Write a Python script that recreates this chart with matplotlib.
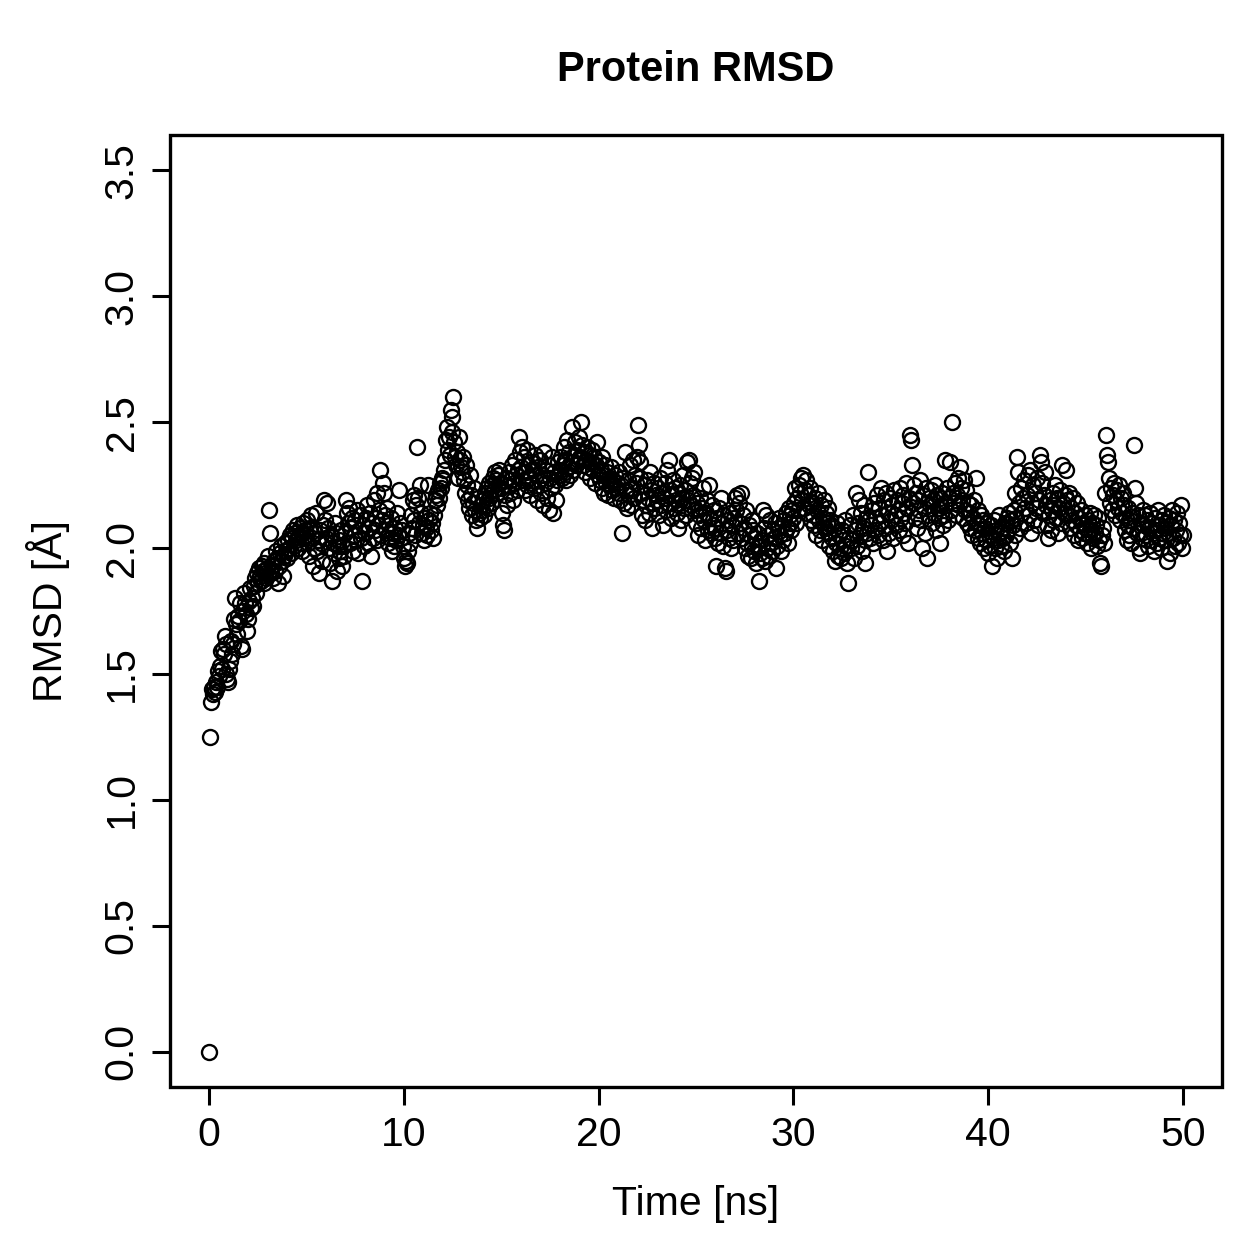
import numpy as np
import matplotlib
matplotlib.use("Agg")
import matplotlib.pyplot as plt

# simulation time in ns, one frame every 50 ps
time_ns = np.round(np.arange(0, 1001) * 0.05, 2)

# protein RMSD in Angstrom, one row per ns (20 frames)
rmsd = np.array([
    0.00, 1.25, 1.39, 1.44, 1.42, 1.45, 1.43, 1.47, 1.45, 1.51, 1.49, 1.53, 1.59, 1.52, 1.60, 1.58, 1.65, 1.62, 1.50, 1.48,
    1.47, 1.52, 1.55, 1.63, 1.58, 1.62, 1.72, 1.80, 1.70, 1.66, 1.73, 1.71, 1.78, 1.61, 1.60, 1.75, 1.82, 1.78, 1.74, 1.67,
    1.72, 1.79, 1.84, 1.76, 1.80, 1.77, 1.85, 1.88, 1.82, 1.90, 1.86, 1.92, 1.89, 1.87, 1.93, 1.91, 1.86, 1.94, 1.90, 1.88,
    1.92, 1.97, 2.15, 2.06, 1.90, 1.93, 1.88, 1.95, 1.91, 1.99, 1.96, 1.86, 1.93, 1.98, 2.01, 1.95, 1.89, 1.97, 2.02, 1.99,
    1.96, 2.03, 2.00, 2.05, 1.98, 2.04, 2.07, 2.01, 2.06, 2.03, 2.09, 2.00, 2.05, 2.08, 2.02, 1.99, 2.06, 2.10, 2.04, 2.07,
    2.05, 2.11, 2.02, 1.97, 2.08, 2.13, 2.04, 1.93, 2.00, 2.06, 2.14, 1.99, 2.03, 1.90, 2.07, 2.02, 1.95, 2.09, 2.19, 2.11,
    2.04, 2.18, 2.08, 2.00, 1.94, 2.05, 1.87, 2.02, 1.98, 2.10, 2.06, 1.91, 2.01, 1.96, 2.03, 1.99, 2.07, 1.93, 2.01, 1.97,
    2.06, 2.19, 2.14, 2.10, 2.16, 2.02, 2.08, 2.12, 1.99, 2.05, 2.11, 2.03, 2.15, 1.98, 2.07, 2.13, 2.04, 1.87, 2.09, 2.01,
    2.06, 2.12, 2.17, 2.02, 2.08, 2.14, 1.97, 2.10, 2.04, 2.19, 2.07, 2.12, 2.22, 2.03, 2.09, 2.15, 2.31, 2.05, 2.11, 2.26,
    2.22, 2.13, 2.07, 2.16, 2.02, 2.09, 2.04, 2.12, 1.99, 2.06, 2.01, 2.08, 2.03, 2.14, 2.05, 2.23, 2.10, 2.04, 2.07, 2.01,
    1.96, 1.93, 1.95, 1.94, 1.99, 2.06, 2.02, 2.13, 2.08, 2.19, 2.21, 2.11, 2.05, 2.17, 2.40, 2.20, 2.10, 2.25, 2.14, 2.06,
    2.09, 2.03, 2.12, 2.08, 2.05, 2.25, 2.11, 2.14, 2.07, 2.10, 2.04, 2.13, 2.19, 2.21, 2.17, 2.23, 2.20, 2.26, 2.24, 2.28,
    2.27, 2.31, 2.35, 2.43, 2.48, 2.39, 2.44, 2.37, 2.55, 2.46, 2.52, 2.60, 2.42, 2.36, 2.33, 2.38, 2.28, 2.44, 2.35, 2.32,
    2.30, 2.36, 2.27, 2.22, 2.33, 2.25, 2.19, 2.16, 2.29, 2.21, 2.13, 2.18, 2.24, 2.15, 2.11, 2.08, 2.20, 2.14, 2.12, 2.17,
    2.15, 2.19, 2.13, 2.22, 2.17, 2.24, 2.16, 2.20, 2.26, 2.21, 2.18, 2.25, 2.28, 2.23, 2.30, 2.27, 2.22, 2.29, 2.31, 2.26,
    2.24, 2.14, 2.09, 2.07, 2.21, 2.28, 2.17, 2.25, 2.30, 2.22, 2.27, 2.33, 2.19, 2.26, 2.35, 2.29, 2.23, 2.31, 2.44, 2.38,
    2.32, 2.40, 2.27, 2.36, 2.23, 2.30, 2.39, 2.25, 2.33, 2.28, 2.21, 2.34, 2.26, 2.31, 2.24, 2.37, 2.29, 2.19, 2.32, 2.27,
    2.35, 2.22, 2.29, 2.17, 2.38, 2.26, 2.31, 2.20, 2.33, 2.15, 2.28, 2.24, 2.36, 2.14, 2.30, 2.25, 2.19, 2.27, 2.34, 2.29,
    2.31, 2.36, 2.28, 2.33, 2.40, 2.30, 2.35, 2.27, 2.43, 2.32, 2.38, 2.29, 2.34, 2.48, 2.31, 2.37, 2.42, 2.33, 2.39, 2.35,
    2.44, 2.36, 2.50, 2.41, 2.33, 2.38, 2.30, 2.35, 2.40, 2.32, 2.37, 2.28, 2.34, 2.39, 2.31, 2.36, 2.26, 2.33, 2.42, 2.29,
    2.34, 2.27, 2.31, 2.24, 2.36, 2.29, 2.22, 2.33, 2.26, 2.30, 2.21, 2.28, 2.25, 2.32, 2.23, 2.27, 2.20, 2.29, 2.24, 2.26,
    2.22, 2.30, 2.19, 2.25, 2.06, 2.28, 2.18, 2.38, 2.23, 2.16, 2.27, 2.21, 2.33, 2.17, 2.24, 2.35, 2.20, 2.29, 2.26, 2.36,
    2.49, 2.41, 2.28, 2.34, 2.22, 2.13, 2.19, 2.25, 2.11, 2.17, 2.27, 2.20, 2.14, 2.30, 2.23, 2.08, 2.18, 2.26, 2.16, 2.21,
    2.19, 2.24, 2.13, 2.28, 2.17, 2.22, 2.09, 2.20, 2.26, 2.15, 2.31, 2.18, 2.35, 2.23, 2.12, 2.21, 2.27, 2.16, 2.24, 2.19,
    2.14, 2.22, 2.08, 2.18, 2.25, 2.11, 2.20, 2.29, 2.16, 2.23, 2.13, 2.34, 2.19, 2.35, 2.26, 2.17, 2.28, 2.21, 2.30, 2.15,
    2.10, 2.18, 2.05, 2.13, 2.20, 2.08, 2.16, 2.24, 2.11, 2.03, 2.14, 2.19, 2.07, 2.25, 2.12, 2.06, 2.17, 2.09, 2.15, 2.04,
    2.08, 1.93, 2.12, 2.02, 2.16, 2.06, 2.20, 2.10, 2.01, 2.13, 1.92, 1.91, 2.07, 2.11, 2.04, 2.14, 2.00, 2.09, 2.03, 2.12,
    2.20, 2.15, 2.21, 2.06, 2.18, 2.10, 2.22, 2.04, 2.13, 2.08, 2.00, 2.15, 2.02, 1.97, 2.09, 2.05, 1.96, 2.11, 2.01, 2.07,
    1.99, 2.04, 1.94, 2.06, 2.01, 1.87, 1.98, 2.03, 1.96, 2.15, 2.08, 1.95, 2.13, 2.00, 2.05, 1.97, 2.11, 2.02, 1.99, 2.07,
    2.04, 2.10, 1.92, 2.01, 2.08, 2.12, 2.05, 1.99, 2.09, 2.03, 2.11, 2.06, 2.14, 2.08, 2.02, 2.16, 2.10, 2.13, 2.07, 2.15,
    2.12, 2.18, 2.24, 2.10, 2.20, 2.15, 2.25, 2.22, 2.28, 2.19, 2.29, 2.16, 2.23, 2.27, 2.14, 2.21, 2.17, 2.24, 2.11, 2.18,
    2.13, 2.09, 2.20, 2.05, 2.15, 2.22, 2.11, 2.07, 2.17, 2.03, 2.12, 2.19, 2.08, 2.14, 2.10, 2.06, 2.16, 2.01, 2.11, 2.09,
    2.04, 1.99, 2.08, 1.95, 2.02, 2.10, 1.97, 2.05, 2.00, 1.96, 2.07, 2.03, 1.98, 2.11, 2.01, 1.94, 1.86, 2.04, 2.09, 2.00,
    2.03, 2.13, 1.96, 2.07, 2.22, 2.01, 2.10, 2.19, 2.05, 2.14, 1.99, 2.08, 2.17, 2.03, 1.94, 2.12, 2.06, 2.30, 2.11, 2.04,
    2.09, 2.15, 2.02, 2.18, 2.07, 2.12, 2.21, 2.05, 2.16, 2.10, 2.24, 2.13, 2.03, 2.19, 2.08, 2.22, 1.99, 2.14, 2.06, 2.20,
    2.11, 2.17, 2.04, 2.23, 2.13, 2.09, 2.19, 2.15, 2.07, 2.24, 2.12, 2.18, 2.05, 2.21, 2.14, 2.10, 2.26, 2.16, 2.02, 2.20,
    2.45, 2.43, 2.33, 2.18, 2.25, 2.12, 2.22, 2.08, 2.19, 2.15, 2.27, 2.11, 2.00, 2.21, 2.16, 2.06, 2.24, 1.96, 2.13, 2.20,
    2.17, 2.23, 2.10, 2.19, 2.14, 2.25, 2.07, 2.21, 2.16, 2.12, 2.20, 2.02, 2.17, 2.22, 2.09, 2.13, 2.35, 2.18, 2.24, 2.11,
    2.20, 2.34, 2.15, 2.50, 2.22, 2.18, 2.26, 2.13, 2.21, 2.28, 2.17, 2.32, 2.24, 2.19, 2.12, 2.27, 2.15, 2.23, 2.10, 2.18,
    2.14, 2.08, 2.17, 2.05, 2.12, 2.19, 2.07, 2.28, 2.10, 2.04, 2.15, 2.09, 2.02, 2.13, 2.06, 2.11, 2.00, 2.08, 2.03, 2.10,
    1.98, 2.05, 2.01, 2.09, 1.93, 2.04, 2.11, 2.00, 2.07, 1.96, 2.03, 2.13, 2.06, 2.01, 2.08, 2.04, 1.99, 2.10, 2.05, 2.12,
    2.07, 2.14, 2.02, 2.11, 1.96, 2.09, 2.15, 2.05, 2.22, 2.12, 2.36, 2.30, 2.18, 2.08, 2.24, 2.14, 2.20, 2.27, 2.16, 2.10,
    2.21, 2.29, 2.13, 2.31, 2.06, 2.18, 2.25, 2.11, 2.22, 2.16, 2.28, 2.09, 2.19, 2.37, 2.34, 2.26, 2.14, 2.21, 2.30, 2.17,
    2.09, 2.04, 2.13, 2.19, 2.07, 2.15, 2.22, 2.11, 2.17, 2.25, 2.12, 2.20, 2.06, 2.16, 2.23, 2.10, 2.33, 2.18, 2.14, 2.21,
    2.31, 2.19, 2.13, 2.22, 2.08, 2.16, 2.11, 2.20, 2.05, 2.14, 2.09, 2.18, 2.03, 2.12, 2.07, 2.15, 2.04, 2.10, 2.06, 2.13,
    2.08, 2.02, 2.11, 2.05, 2.14, 2.07, 2.00, 2.10, 2.04, 2.13, 2.06, 2.09, 2.01, 2.12, 2.03, 1.94, 1.93, 2.05, 2.08, 2.02,
    2.22, 2.45, 2.37, 2.34, 2.28, 2.18, 2.24, 2.15, 2.21, 2.26, 2.13, 2.19, 2.23, 2.16, 2.25, 2.11, 2.20, 2.14, 2.22, 2.17,
    2.07, 2.12, 2.03, 2.09, 2.16, 2.05, 2.11, 2.02, 2.14, 2.08, 2.41, 2.24, 2.18, 2.06, 2.13, 2.00, 1.98, 2.10, 2.04, 2.15,
    2.09, 2.13, 2.05, 2.11, 2.01, 2.08, 2.14, 2.03, 2.10, 2.06, 1.99, 2.12, 2.07, 2.02, 2.15, 2.04, 2.09, 2.00, 2.11, 2.06,
    2.13, 2.08, 2.03, 2.10, 1.95, 2.06, 2.12, 1.98, 2.09, 2.15, 2.04, 2.11, 2.01, 2.07, 2.14, 2.02, 2.10, 2.05, 2.17, 2.00,
    2.05,
])

x_ticks = [0, 10, 20, 30, 40, 50]
y_ticks = [0.0, 0.5, 1.0, 1.5, 2.0, 2.5, 3.0, 3.5]

plt.rcParams['font.family'] = ['Liberation Sans', 'DejaVu Sans']

fig = plt.figure(figsize=(12.59, 12.59), dpi=100)
ax = fig.add_axes([170 / 1259, 1 - 1087 / 1259, (1222 - 170) / 1259, (1087 - 135) / 1259])

ax.plot(time_ns, rmsd, linestyle='none', marker='o', markersize=10.8,
        markerfacecolor='none', markeredgecolor='black', markeredgewidth=1.7)

# R style: 4% padding around data range
ax.set_xlim(-2, 52)
ax.set_ylim(-0.14, 3.64)

ax.set_xticks(x_ticks)
ax.set_xticklabels([str(t) for t in x_ticks])
ax.set_yticks(y_ticks)
ax.set_yticklabels([f"{v:.1f}" for v in y_ticks], rotation=90, va='center')

for s in ax.spines.values():
    s.set_visible(False)
ax.tick_params(axis='both', direction='out', length=13, width=2.2, labelsize=29.5, pad=8)

# full box drawn around plot area like base R
ax.add_patch(plt.Rectangle((0, 0), 1, 1, transform=ax.transAxes, fill=False,
                           edgecolor='black', linewidth=2.4, clip_on=False))

ax.set_xlabel("Time [ns]", fontsize=29.5, labelpad=22)
ax.set_ylabel("RMSD [Å]", fontsize=29.5, labelpad=24)
fig.text(0.5 * (170 + 1222) / 1259, 1 - 70 / 1259, "Protein RMSD", ha='center', va='center',
         fontsize=30, fontweight='bold')

fig.savefig("out.png", dpi=100)
